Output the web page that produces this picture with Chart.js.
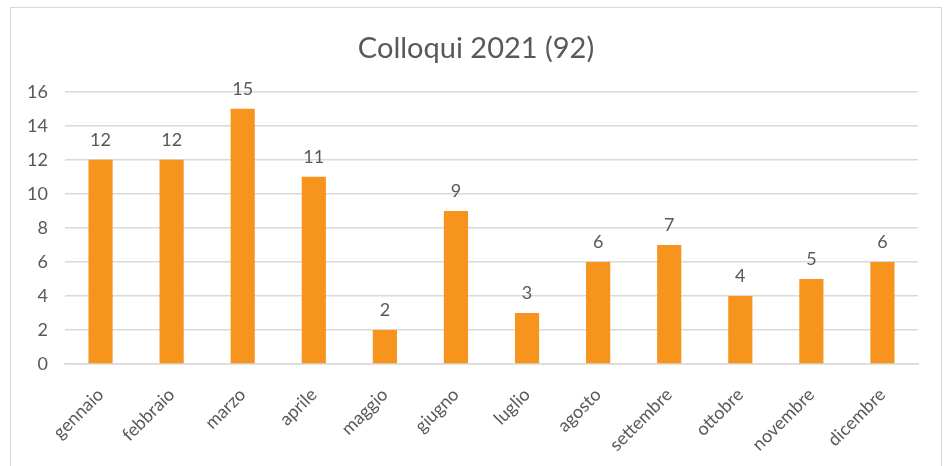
<!DOCTYPE html>
<html>
<head>
<meta charset="utf-8">
<script src="https://cdn.jsdelivr.net/npm/chart.js@4/dist/chart.umd.min.js"></script>
<style>
    html, body { margin: 0; padding: 0; background: #fff; }
    .chart-box {
        position: absolute;
        left: 10px; top: 7px;
        width: 930px; height: 470px;
        border: 1px solid #D9D9D9;
        background: #fff;
    }
    .chart-box canvas { display: block; }
</style>
</head>
<body>
<div class="chart-box">
    <canvas id="chart" width="930" height="459"></canvas>
</div>
<script>
const months = ['gennaio', 'febbraio', 'marzo', 'aprile', 'maggio', 'giugno',
    'luglio', 'agosto', 'settembre', 'ottobre', 'novembre', 'dicembre'];
const colloqui = [12, 12, 15, 11, 2, 9, 3, 6, 7, 4, 5, 6];
const titleText = 'Colloqui 2021 (92)';

const textColor = '#595959';
const fontFamily = 'Lato, "Noto Sans", sans-serif';

// value labels above each bar (no datalabels plugin available)
const valueLabels = {
    id: 'valueLabels',
    afterDatasetsDraw(chart) {
        const ctx = chart.ctx;
        const meta = chart.getDatasetMeta(0);
        ctx.save();
        ctx.fillStyle = textColor;
        ctx.font = '18px ' + fontFamily;
        ctx.textAlign = 'center';
        ctx.textBaseline = 'alphabetic';
        meta.data.forEach((bar, i) => {
            ctx.fillText(String(colloqui[i]), bar.x, bar.y - 14);
        });
        ctx.restore();
    }
};

new Chart(document.getElementById('chart'), {
    type: 'bar',
    data: {
        labels: months,
        datasets: [{
            data: colloqui,
            backgroundColor: '#F7941E',
            borderWidth: 0,
            barPercentage: 0.34,
            categoryPercentage: 1
        }]
    },
    options: {
        responsive: false,
        animation: false,
        plugins: {
            legend: { display: false },
            tooltip: { enabled: false },
            title: {
                display: true,
                text: titleText,
                color: textColor,
                font: { family: fontFamily, size: 29, weight: 'normal' },
                padding: { top: 23, bottom: 26 }
            }
        },
        scales: {
            x: {
                grid: { display: false, drawTicks: false },
                border: { display: true, color: '#D9D9D9', width: 1.5 },
                ticks: {
                    color: textColor,
                    font: { family: fontFamily, size: 18 },
                    minRotation: 45,
                    maxRotation: 45,
                    padding: 20
                },
                afterFit(scale) { scale.height = 103; }
            },
            y: {
                min: 0,
                max: 16,
                grid: { color: '#D9D9D9', drawTicks: false, lineWidth: 1.5 },
                border: { display: false },
                ticks: {
                    stepSize: 2,
                    color: textColor,
                    font: { family: fontFamily, size: 18 },
                    padding: 17
                },
                afterFit(scale) { scale.width = 54; }
            },
            // empty right-hand spacer so the title stays centred on the whole box
            spacer: {
                type: 'linear',
                position: 'right',
                grid: { display: false, drawTicks: false },
                border: { display: false },
                ticks: { display: false },
                afterFit(scale) { scale.width = 23; }
            }
        }
    },
    plugins: [valueLabels]
});
</script>
</body>
</html>
